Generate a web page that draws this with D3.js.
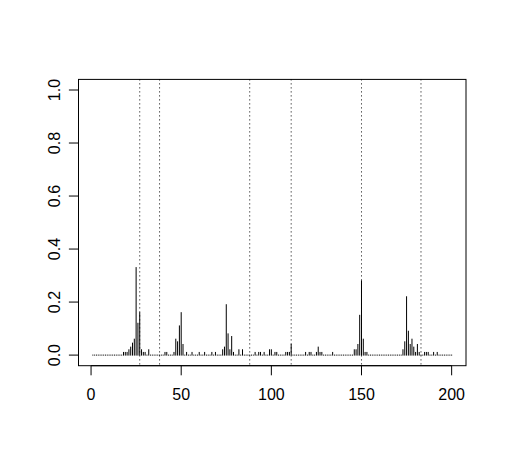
<!DOCTYPE html>
<html>
<head>
<meta charset="utf-8">
<script src="https://cdn.jsdelivr.net/npm/d3@7"></script>
<style>
  html, body { margin: 0; padding: 0; background: #fff; }
  svg text { font-family: "Liberation Sans", Arial, Helvetica, sans-serif; }
</style>
</head>
<body>
<svg id="chart" width="508" height="464"></svg>
<script>
// ---- data ----
const values = [
  0,0,0,0,0,0,0,0,0,0, 0,0,0,0,0,0,0,0.01,0.01,0.01,
  0.02,0.03,0.045,0.06,0.33,0.12,0.16,0.02,0.01,0.01, 0,0.02,0,0,0,0,0,0,0,0,
  0.01,0.01,0,0,0,0.01,0.06,0.05,0.11,0.16, 0.04,0,0.01,0,0,0.01,0,0,0,0.01,
  0,0,0.01,0,0,0,0.01,0,0.01,0, 0,0,0.02,0.03,0.19,0.08,0.02,0.07,0.01,0,
  0,0.02,0,0.02,0,0,0,0,0,0, 0.01,0,0.01,0.01,0,0.01,0,0,0.02,0.02,
  0,0.01,0.01,0,0,0,0,0.01,0.01,0.01, 0.04,0,0,0,0,0,0,0,0.01,0,
  0.01,0.01,0,0,0.01,0.03,0.01,0.01,0,0, 0,0,0,0.01,0,0,0,0,0,0,
  0,0,0,0,0,0.02,0.02,0.04,0.15,0.28, 0.06,0.01,0.01,0,0,0,0,0,0,0,
  0,0,0,0,0,0,0,0,0,0, 0,0,0.02,0.05,0.22,0.09,0.04,0.06,0.03,0.01,
  0.04,0.01,0,0,0.01,0.01,0.01,0,0,0.01, 0,0.01,0,0,0,0,0,0,0,0
];
const xIndex = values.map((v, i) => i + 1);
const refLines = [27, 38, 88, 111, 150, 183];
const xTicks = [0, 50, 100, 150, 200];
const yTicks = [0, 0.2, 0.4, 0.6, 0.8, 1.0];

// ---- layout ----
const box = { left: 78.5, right: 466, top: 79.4, bottom: 365.7 };
const svg = d3.select("#chart");

const x = d3.scaleLinear().domain([1 - 0.04 * 199, 200 + 0.04 * 199]).range([box.left, box.right]);
const y = d3.scaleLinear().domain([-0.04, 1.04]).range([box.bottom, box.top]);

// reference lines (dotted)
svg.append("g").selectAll("line").data(refLines).join("line")
  .attr("x1", d => x(d)).attr("x2", d => x(d))
  .attr("y1", box.top).attr("y2", box.bottom)
  .attr("stroke", "#000").attr("stroke-width", 1)
  .attr("stroke-dasharray", "1,3");

// histogram-like spikes
svg.append("g").selectAll("line").data(values).join("line")
  .attr("x1", (d, i) => x(xIndex[i])).attr("x2", (d, i) => x(xIndex[i]))
  .attr("y1", y(0)).attr("y2", d => y(d))
  .attr("stroke", "#000").attr("stroke-width", 1)
  .attr("stroke-linecap", "square");

// box
svg.append("rect")
  .attr("x", box.left).attr("y", box.top)
  .attr("width", box.right - box.left).attr("height", box.bottom - box.top)
  .attr("fill", "none").attr("stroke", "#000").attr("stroke-width", 1);

const tick = 9.6;
// x axis
const gx = svg.append("g");
gx.append("line")
  .attr("x1", x(xTicks[0])).attr("x2", x(xTicks[xTicks.length - 1]))
  .attr("y1", box.bottom).attr("y2", box.bottom).attr("stroke", "#000");
gx.selectAll("line.t").data(xTicks).join("line").attr("class", "t")
  .attr("x1", d => x(d)).attr("x2", d => x(d))
  .attr("y1", box.bottom).attr("y2", box.bottom + tick).attr("stroke", "#000");
gx.selectAll("text").data(xTicks).join("text")
  .attr("x", d => x(d)).attr("y", box.bottom + 34.5)
  .attr("text-anchor", "middle").attr("font-size", 16).attr("fill", "#000")
  .text(d => d);

// y axis
const gy = svg.append("g");
gy.append("line")
  .attr("x1", box.left).attr("x2", box.left)
  .attr("y1", y(yTicks[0])).attr("y2", y(yTicks[yTicks.length - 1])).attr("stroke", "#000");
gy.selectAll("line.t").data(yTicks).join("line").attr("class", "t")
  .attr("x1", box.left - tick).attr("x2", box.left)
  .attr("y1", d => y(d)).attr("y2", d => y(d)).attr("stroke", "#000");
gy.selectAll("text").data(yTicks).join("text")
  .attr("transform", d => `translate(${box.left - 19},${y(d)}) rotate(-90)`)
  .attr("text-anchor", "middle").attr("font-size", 16).attr("fill", "#000")
  .text(d => d.toFixed(1));
</script>
</body>
</html>
